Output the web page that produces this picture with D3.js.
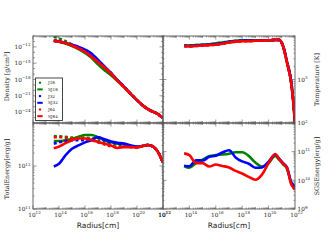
<!DOCTYPE html>
<html>
<head>
<meta charset="utf-8">
<script src="https://cdn.jsdelivr.net/npm/d3@7/dist/d3.min.js"></script>
<style>
  html, body { margin: 0; padding: 0; background: #fff; }
  svg { display: block; }
</style>
</head>
<body>
<div id="chart"></div>
<script>
// run names, drawn in this order (red last, on top)
const runs = ['J16', 'SJ16', 'J32', 'SJ32', 'J64', 'SJ64'];
const runColor = { J16: '#008000', SJ16: '#008000', J32: '#0000ff', SJ32: '#0000ff', J64: '#ff0000', SJ64: '#ff0000' };

// radius sample points, log10(cm)
const radiusExp = [13.6, 14, 14.5, 15, 15.5, 16, 16.5, 17, 17.5, 18, 18.5, 19, 19.5, 20, 20.5, 20.8, 21.1, 21.4, 21.7, 21.85, 22];

// log10 density [g/cm^3]
const density = {
  J16:  [-10.15, -10.45, -10.95, -11.55, -12.25, -13.0, -13.9, -15.1, -16.2, -17.1, -18.2, -19.4, -20.6, -21.8, -22.85, -23.35, -23.75, -24.1, -24.5, -24.8, -25.1],
  SJ16: [-10.9, -11.05, -11.4, -11.85, -12.4, -13.1, -14.0, -15.2, -16.3, -17.2, -18.3, -19.4, -20.6, -21.8, -22.85, -23.35, -23.75, -24.1, -24.5, -24.8, -25.1],
  J32:  [-10.8, -10.95, -11.25, -11.6, -12.0, -12.55, -13.3, -14.5, -15.7, -16.8, -18.1, -19.3, -20.6, -21.8, -22.9, -23.4, -23.8, -24.1, -24.5, -24.8, -25.1],
  SJ32: [-10.85, -11.0, -11.3, -11.6, -12.0, -12.5, -13.2, -14.4, -15.6, -16.8, -18.1, -19.3, -20.6, -21.8, -22.9, -23.4, -23.8, -24.1, -24.5, -24.8, -25.1],
  J64:  [-10.85, -11.0, -11.25, -11.7, -12.25, -12.9, -13.8, -14.8, -15.8, -16.9, -18.2, -19.4, -20.6, -21.8, -22.9, -23.4, -23.8, -24.1, -24.5, -24.8, -25.1],
  SJ64: [-10.9, -11.05, -11.3, -11.75, -12.3, -12.9, -13.8, -14.8, -15.8, -16.9, -18.2, -19.4, -20.6, -21.8, -22.9, -23.4, -23.8, -24.1, -24.5, -24.8, -25.1],
};

// log10 temperature [K]
const temperature = {
  J16:  [3.78, 3.78, 3.79, 3.80, 3.81, 3.83, 3.85, 3.87, 3.89, 3.90, 3.90, 3.90, 3.90, 3.90, 3.91, 3.91, 3.76, 3.38, 2.95, 2.55, 2.0],
  SJ16: [3.78, 3.78, 3.79, 3.80, 3.81, 3.83, 3.85, 3.87, 3.89, 3.90, 3.90, 3.90, 3.90, 3.90, 3.91, 3.91, 3.76, 3.38, 2.95, 2.55, 2.0],
  J32:  [3.77, 3.77, 3.78, 3.79, 3.80, 3.81, 3.83, 3.86, 3.88, 3.89, 3.89, 3.89, 3.89, 3.90, 3.91, 3.91, 3.77, 3.40, 2.97, 2.57, 2.0],
  SJ32: [3.77, 3.77, 3.78, 3.79, 3.80, 3.81, 3.83, 3.86, 3.88, 3.89, 3.89, 3.89, 3.89, 3.90, 3.91, 3.91, 3.77, 3.40, 2.97, 2.57, 2.0],
  J64:  [3.77, 3.76, 3.77, 3.78, 3.79, 3.80, 3.82, 3.85, 3.87, 3.88, 3.88, 3.89, 3.89, 3.90, 3.91, 3.91, 3.76, 3.38, 2.95, 2.55, 2.0],
  SJ64: [3.77, 3.76, 3.77, 3.78, 3.79, 3.80, 3.82, 3.85, 3.87, 3.88, 3.88, 3.89, 3.89, 3.90, 3.91, 3.91, 3.76, 3.38, 2.95, 2.55, 2.0],
};

// log10 total energy [erg/g]
const totalEnergy = {
  J16:  [12.69, 12.69, 12.68, 12.66, 12.66, 12.66, 12.64, 12.60, 12.56, 12.52, 12.50, 12.48, 12.45, 12.44, 12.47, 12.49, 12.47, 12.41, 12.28, 12.18, 12.08],
  SJ16: [12.58, 12.58, 12.60, 12.63, 12.68, 12.72, 12.72, 12.67, 12.60, 12.55, 12.52, 12.50, 12.46, 12.44, 12.47, 12.49, 12.47, 12.41, 12.28, 12.18, 12.08],
  J32:  [12.52, 12.55, 12.58, 12.60, 12.60, 12.60, 12.62, 12.66, 12.60, 12.55, 12.52, 12.50, 12.46, 12.44, 12.47, 12.49, 12.47, 12.41, 12.28, 12.18, 12.08],
  SJ32: [11.99, 12.05, 12.25, 12.40, 12.48, 12.55, 12.60, 12.67, 12.62, 12.57, 12.54, 12.52, 12.48, 12.45, 12.47, 12.49, 12.47, 12.41, 12.28, 12.18, 12.08],
  J64:  [12.67, 12.67, 12.66, 12.64, 12.64, 12.63, 12.60, 12.55, 12.50, 12.46, 12.44, 12.45, 12.44, 12.43, 12.47, 12.49, 12.47, 12.41, 12.28, 12.18, 12.08],
  SJ64: [12.41, 12.45, 12.53, 12.60, 12.64, 12.64, 12.61, 12.56, 12.52, 12.48, 12.42, 12.44, 12.44, 12.43, 12.47, 12.49, 12.47, 12.41, 12.28, 12.18, 12.08],
};

// log10 SGS energy [erg/g] (only the SGS runs)
const sgsEnergy = {
  SJ16: [10.50, 10.44, 10.60, 10.72, 10.84, 10.88, 10.90, 10.93, 10.98, 10.98, 10.85, 10.62, 10.48, 10.60, 10.85, 10.72, 10.56, 10.40, 9.92, 9.80, 9.72],
  SJ32: [10.51, 10.49, 10.70, 10.69, 10.82, 10.86, 10.97, 11.05, 10.80, 10.66, 10.58, 10.44, 10.45, 10.65, 10.90, 10.76, 10.60, 10.45, 9.95, 9.85, 9.78],
  SJ64: [10.94, 10.88, 10.60, 10.60, 10.48, 10.55, 10.50, 10.45, 10.33, 10.24, 10.12, 10.02, 10.20, 10.60, 10.92, 10.74, 10.58, 10.43, 9.88, 9.76, 9.68],
};

// tick labels (exponents)
const xTickExp = [12, 14, 16, 18, 20, 22];
const densityTickExp = [-12, -15, -18, -21, -24];
const temperatureTickExp = [2, 3];
const totalTickExp = [11, 12];
const sgsTickExp = [9, 10, 11];

const W = 328, H = 246;
const X0 = 33, XM = 163, X1 = 295;
const Y0 = 36, YM = 123, Y1 = 209;
const FRAME = '#555';
const SERIF = '"DejaVu Serif", serif';

const svg = d3.select('#chart').append('svg')
  .attr('width', W).attr('height', H)
  .attr('viewBox', `0 0 ${W} ${H}`);

const panels = [
  { id: 'dens', x: [X0, XM], y: [Y0, YM], dom: [1e-26, 1e-10], data: density, side: 'left',
    ticks: densityTickExp, xlabels: false, label: 'Density' },
  { id: 'temp', x: [XM, X1], y: [Y0, YM], dom: [1e2, 1e4], data: temperature, side: 'right',
    ticks: temperatureTickExp, xlabels: false, label: 'Temperature [K]' },
  { id: 'tot', x: [X0, XM], y: [YM, Y1], dom: [1e11, 1e13], data: totalEnergy, side: 'left',
    ticks: totalTickExp, xlabels: true, label: 'TotalEnergy[erg/g]' },
  { id: 'sgs', x: [XM, X1], y: [YM, Y1], dom: [1e9, 1e12], data: sgsEnergy, side: 'right',
    ticks: sgsTickExp, xlabels: true, label: 'SGSEnergy[erg/g]' },
];

function powLabel(sel, exp, size) {
  sel.append('tspan').text('10');
  sel.append('tspan').attr('dy', -2.6).attr('font-size', size * 0.7).text(exp < 0 ? '\u2212' + (-exp) : exp);
}

panels.forEach(p => {
  const x = d3.scaleLog().domain([1e12, 1e22]).range(p.x);
  const y = d3.scaleLog().domain(p.dom).range([p.y[1], p.y[0]]);
  const g = svg.append('g');

  g.append('clipPath').attr('id', 'clip-' + p.id)
    .append('rect').attr('x', p.x[0]).attr('y', p.y[0])
    .attr('width', p.x[1] - p.x[0]).attr('height', p.y[1] - p.y[0]);

  // curves
  const line = d3.line()
    .x((d, i) => x(10 ** radiusExp[i]))
    .y(d => y(10 ** d))
    .curve(d3.curveMonotoneX);

  const lines = g.append('g').attr('clip-path', `url(#clip-${p.id})`);
  runs.filter(r => p.data[r]).forEach(r => {
    lines.append('path')
      .attr('d', line(p.data[r]))
      .attr('fill', 'none')
      .attr('stroke', runColor[r])
      .attr('stroke-width', 2.6)
      .attr('stroke-dasharray', r.startsWith('S') ? null : '3,2.5');
  });

  // minor/major ticks on x (top & bottom), pointing inward
  const xt = g.append('g').attr('stroke', FRAME).attr('stroke-width', 0.6);
  for (let e = 12; e < 22; e++) {
    for (let m = 1; m <= 9; m++) {
      const v = m * 10 ** e;
      const px = x(v);
      const len = m === 1 ? (e % 2 === 0 ? 3.5 : 2) : 1.5;
      xt.append('line').attr('x1', px).attr('x2', px).attr('y1', p.y[1]).attr('y2', p.y[1] - len);
      xt.append('line').attr('x1', px).attr('x2', px).attr('y1', p.y[0]).attr('y2', p.y[0] + len);
    }
  }

  // y ticks on both sides
  const e0 = Math.round(Math.log10(p.dom[0])), e1 = Math.round(Math.log10(p.dom[1]));
  for (let e = e0; e <= e1; e++) {
    const major = p.ticks.includes(e);
    const py = y(10 ** e);
    const len = major ? 3.5 : 2;
    xt.append('line').attr('x1', p.x[0]).attr('x2', p.x[0] + len).attr('y1', py).attr('y2', py);
    xt.append('line').attr('x1', p.x[1]).attr('x2', p.x[1] - len).attr('y1', py).attr('y2', py);
    if (p.dom[1] / p.dom[0] <= 1e4 && e < e1) {
      for (let m = 2; m <= 9; m++) {
        const pm = y(m * 10 ** e);
        xt.append('line').attr('x1', p.x[0]).attr('x2', p.x[0] + 1.5).attr('y1', pm).attr('y2', pm);
        xt.append('line').attr('x1', p.x[1]).attr('x2', p.x[1] - 1.5).attr('y1', pm).attr('y2', pm);
      }
    }
  }

  // frame
  g.append('rect').attr('x', p.x[0]).attr('y', p.y[0])
    .attr('width', p.x[1] - p.x[0]).attr('height', p.y[1] - p.y[0])
    .attr('fill', 'none').attr('stroke', FRAME).attr('stroke-width', 0.9);

  // y tick labels
  p.ticks.forEach(e => {
    const t = g.append('text')
      .attr('x', p.side === 'left' ? p.x[0] - 2.5 : p.x[1] + 2.5)
      .attr('y', y(10 ** e) + 2.2)
      .attr('text-anchor', p.side === 'left' ? 'end' : 'start')
      .attr('font-family', SERIF).attr('font-size', 5.8).attr('fill', '#222');
    powLabel(t, e, 5.8);
  });

  // x tick labels
  if (p.xlabels) {
    xTickExp.forEach(e => {
      const t = g.append('text')
        .attr('x', x(10 ** e) + 1.5).attr('y', p.y[1] + 8)
        .attr('text-anchor', 'middle')
        .attr('font-family', SERIF).attr('font-size', 5.8).attr('fill', '#222');
      powLabel(t, e, 5.8);
    });
    svg.append('text')
      .attr('x', (p.x[0] + p.x[1]) / 2).attr('y', p.y[1] + 19)
      .attr('text-anchor', 'middle')
      .attr('font-family', '"DejaVu Sans", sans-serif').attr('font-size', 7.5).attr('fill', '#222')
      .text('Radius[cm]');
  }

  // axis title
  const tx = p.side === 'left' ? 9 : 319;
  const ty = (p.y[0] + p.y[1]) / 2 + (p.id === 'dens' ? -3 : p.id === 'tot' ? 3 : 0);
  const title = svg.append('text')
    .attr('transform', `translate(${tx},${ty}) rotate(-90)`)
    .attr('text-anchor', 'middle')
    .attr('font-family', SERIF).attr('font-size', 6.3).attr('fill', '#222');
  if (p.id === 'dens') {
    title.append('tspan').text('Density [g/cm');
    title.append('tspan').attr('dy', -2.5).attr('font-size', 4.5).text('3');
    title.append('tspan').attr('dy', 2.5).text(']');
  } else {
    title.text(p.label);
  }

  // legend in the density panel
  if (p.id === 'dens') {
    const lg = g.append('g');
    lg.append('rect').attr('x', 35.5).attr('y', 78).attr('width', 27).attr('height', 42.5)
      .attr('fill', '#fff').attr('stroke', '#333').attr('stroke-width', 0.9);
    runs.forEach((r, i) => {
      const ly = 82.7 + i * 6.7;
      const dashed = !r.startsWith('S');
      lg.append('line')
        .attr('x1', dashed ? 38.9 : 37.3).attr('x2', dashed ? 41.1 : 42.7)
        .attr('y1', ly).attr('y2', ly)
        .attr('stroke', runColor[r]).attr('stroke-width', 2);
      lg.append('text').attr('x', 48).attr('y', ly + 1.5)
        .attr('font-family', SERIF).attr('font-size', 4.2).attr('fill', '#222')
        .text(r);
    });
  }
});
</script>
</body>
</html>
